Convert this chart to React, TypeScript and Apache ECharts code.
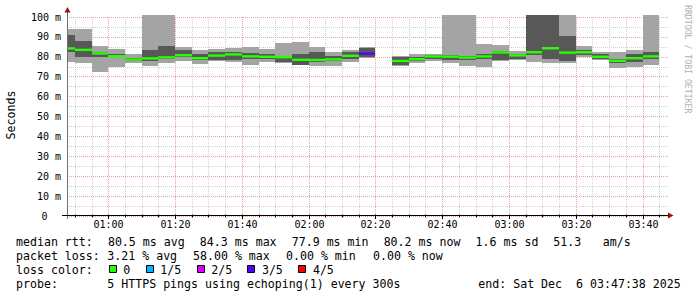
import React, { useEffect, useRef } from "react";
import * as echarts from "echarts";

// time axis in minutes since midnight: 00:47:38 .. 03:47:38
const X_START = 47 + 38 / 60;
const X_END = X_START + 180;
const STEP_MIN = 5;

const blockEndMinutes = [50, 55, 60, 65, 70, 75, 80, 85, 90, 95, 100, 105, 110, 115, 120, 125, 130, 135, 140, 145, 150, 155, 160, 165, 170, 175, 180, 185, 190, 195, 200, 205, 210, 215, 220, 225];
const pingLow = [77.2, 76.7, 72.6, 74.7, 76.8, 75.3, 76.7, 77.8, 76.6, 77.8, 77.5, 75.8, 77.2, 77.0, 75.8, 75.5, 75.5, 77.5, 79.2, null, 75.2, 76.7, 77.8, 76.7, 75.3, 75.0, 78.0, 78.3, 77.2, 76.7, 76.7, 79.8, 78.6, 74.2, 74.7, 75.7];
const pingQ2 = [82.2, 80.0, 80.0, 79.7, 77.7, 77.8, 78.7, 79.8, 78.5, 78.6, 78.2, 78.7, 78.8, 77.6, 76.0, 77.2, 77.8, 78.7, 79.8, null, 75.8, 77.8, 78.8, 78.3, 78.3, 79.0, 78.2, 79.0, 80.7, 79.0, 78.0, 81.0, 78.8, 76.8, 77.2, 78.7];
const medianRtt = [84.2, 83.5, 81.7, 80.3, 78.6, 79.2, 79.7, 80.8, 79.3, 80.6, 81.2, 80.2, 80.0, 79.8, 78.5, 78.4, 78.7, 80.5, 81.6, null, 77.9, 78.8, 80.2, 80.1, 79.6, 80.2, 82.2, 80.7, 82.3, 84.3, 82.1, 82.3, 80.0, 78.0, 79.3, 80.2];
const pingQ4 = [91.0, 88.0, 82.5, 81.5, 79.6, 83.5, 85.5, 83.5, 81.4, 82.5, 82.5, 82.0, 81.2, 80.6, 81.5, 82.5, 80.6, 82.5, 84.6, null, 79.7, 80.0, 80.9, 81.0, 80.5, 81.5, 83.0, 81.5, 101, 101, 90.5, 83.5, 81.5, 78.8, 81.2, 82.5];
const pingHigh = [94.2, 94.2, 85.5, 84.1, 81.6, 101, 101, 85.1, 83.5, 83.9, 84.5, 85.0, 84.0, 86.8, 87.5, 85.0, 82.5, 83.5, 85.0, null, 80.3, 81.5, 81.5, 101, 101, 86.5, 86.0, 83.0, 101, 101, 101, 85.5, 82.5, 82.2, 83.5, 101];
const lossFifths = [0, 0, 0, 0, 0, 0, 0, 0, 0, 0, 0, 0, 0, 0, 0, 0, 0, 0, 3, null, 0, 0, 0, 0, 0, 0, 0, 0, 0, 0, 0, 0, 0, 0, 0, 0];

const xGridMinutes = [50, 55, 60, 65, 70, 75, 80, 85, 90, 95, 100, 105, 110, 115, 120, 125, 130, 135, 140, 145, 150, 155, 160, 165, 170, 175, 180, 185, 190, 195, 200, 205, 210, 215, 220, 225];
const xTickMinutes = [60, 80, 100, 120, 140, 160, 180, 200, 220];
const xTickLabels = ["01:00", "01:20", "01:40", "02:00", "02:20", "02:40", "03:00", "03:20", "03:40"];

const lossColors = ["#26ff00", "#00b8ff", "#dd00ff", "#5500ff", "#ff0000"];
const lossLabels = ["0", "1/5", "2/5", "3/5", "4/5"];

const statsRtt = ["median rtt:", "80.5 ms avg", "84.3 ms max", "77.9 ms min", "80.2 ms now", "1.6 ms sd", "51.3", "am/s"];
const statsLoss = ["packet loss:", "3.21 % avg", "58.00 % max", "0.00 % min", "0.00 % now"];
const probeText = ["probe:", "5 HTTPS pings using echoping(1) every 300s", "end: Sat Dec", "6 03:47:38 2025"];

const MONO = '"DejaVu Sans Mono", monospace';
const LIGHT = "#a4a4a4";
const DARK = "#585858";
const MAJOR = "#e9a5a5";
const MINOR = "#cfcfcf";

export default function App() {
  const ref = useRef<HTMLDivElement>(null);
  useEffect(() => {
    if (!ref.current) return;
    const chart = echarts.init(ref.current, null, { renderer: "svg", width: 697, height: 297 });

    const blockData: any[] = [];
    blockEndMinutes.forEach((t, i) => {
      if (pingLow[i] == null) return;
      blockData.push([t, pingLow[i], pingQ2[i], medianRtt[i], pingQ4[i], pingHigh[i], lossFifths[i]]);
    });

    const cw = 7.07;
    const graphic: any[] = [];
    const txt = (x: number, y: number, s: string, extra: any = {}) => ({
      type: "text", x, y, silent: true,
      style: { text: s, fontFamily: MONO, fontSize: 11.6, fill: "#000", align: "left", verticalAlign: "middle", ...extra },
    });
    const rttCols = [0, 13, 26, 39, 52, 65, 76, 83];
    statsRtt.forEach((s, i) => graphic.push(txt(16 + rttCols[i] * cw, 241.5, s)));
    const lossX = [16, 107.3, 193, 286, 373];
    statsLoss.forEach((s, i) => graphic.push(txt(lossX[i], 255.5, s)));
    graphic.push(txt(16, 269.5, "loss color:"));
    const boxX = [108.7, 145.7, 196.7, 247.3, 298.3];
    lossLabels.forEach((s, i) => {
      graphic.push({ type: "rect", silent: true, shape: { x: Math.round(boxX[i]) + 0.5, y: 265.5, width: 7, height: 7 }, style: { fill: lossColors[i], stroke: "#000", lineWidth: 1 } });
      graphic.push(txt(boxX[i] + 14.6, 269.5, s));
    });
    const probeX = [16, 107.3, 478.3, 478.3 + 14 * 6.98];
    probeText.forEach((s, i) => graphic.push(txt(probeX[i], 283.5, s)));

    graphic.push({ type: "text", x: 10.5, y: 115, rotation: Math.PI / 2, silent: true, style: { text: "Seconds", fontFamily: MONO, fontSize: 11.6, fill: "#000", align: "center", verticalAlign: "middle" } });
    graphic.push({ type: "text", x: 688, y: 5, rotation: -Math.PI / 2, silent: true, style: { text: "RRDTOOL / TOBI OETIKER", fontFamily: MONO, fontSize: 8.2, fill: "#b0b0b0", align: "left", verticalAlign: "middle" } });

    // axis lines and arrows
    graphic.push({ type: "line", silent: true, z: 50, shape: { x1: 67.5, y1: 10, x2: 67.5, y2: 219 }, style: { stroke: "#707070", lineWidth: 1 } });
    graphic.push({ type: "line", silent: true, z: 50, shape: { x1: 62, y1: 215.5, x2: 668, y2: 215.5 }, style: { stroke: "#000", lineWidth: 1 } });
    graphic.push({ type: "polygon", silent: true, z: 51, shape: { points: [[67.5, 7], [64.5, 12.5], [70.5, 12.5]] }, style: { fill: "#9a1010" } });
    graphic.push({ type: "polygon", silent: true, z: 51, shape: { points: [[673.5, 215.5], [668, 212.5], [668, 218.5]] }, style: { fill: "#9a1010" } });

    const option: any = {
      animation: false,
      backgroundColor: "#ffffff",
      grid: { left: 67, right: 29, top: 17, bottom: 81, containLabel: false },
      xAxis: {
        type: "value", min: X_START, max: X_END,
        axisLine: { show: false }, axisTick: { show: false }, axisLabel: { show: false }, splitLine: { show: false },
      },
      yAxis: {
        type: "value", min: 0, max: 100, interval: 10,
        axisLine: { show: false }, axisTick: { show: false },
        axisLabel: {
          margin: 6, fontFamily: MONO, fontSize: 10, color: "#000",
          formatter: (v: number) => (v === 0 ? "{z|0}" : `${v} m`),
          rich: { z: { fontFamily: MONO, fontSize: 10, color: "#000", padding: [0, 13.5, 0, 0] } },
        },
        splitLine: { show: true, lineStyle: { color: MAJOR, width: 1, type: [1, 1] } },
        minorTick: { show: false, splitNumber: 2 },
        minorSplitLine: { show: true, lineStyle: { color: MINOR, width: 1, type: [1, 1] } },
      },
      series: [
        {
          type: "custom", z: 1, silent: true, clip: false,
          data: xGridMinutes.map((t) => [t]),
          renderItem: (params: any, api: any) => {
            const t = api.value(0);
            const p0 = api.coord([t, 0]);
            const p1 = api.coord([t, 100]);
            const x = Math.round(p0[0]) + 0.5;
            const idx = xTickMinutes.indexOf(t);
            const children: any[] = [
              { type: "line", shape: { x1: x, y1: p0[1], x2: x, y2: p1[1] }, style: { stroke: idx >= 0 ? MAJOR : MINOR, lineWidth: 1, lineDash: [1, 1] } },
              { type: "line", shape: { x1: x, y1: p0[1] - 1.5, x2: x, y2: p0[1] + (idx >= 0 ? 3 : 1.5) }, style: { stroke: "#000", lineWidth: 1 } },
            ];
            if (idx >= 0) {
              children.push({ type: "text", style: { text: xTickLabels[idx], x, y: p0[1] + 8.5, fontFamily: MONO, fontSize: 10, fill: "#000", align: "center", verticalAlign: "middle" } });
            }
            return { type: "group", children };
          },
        },
        {
          type: "custom", z: 2, silent: true, clip: false,
          data: blockData,
          renderItem: (params: any, api: any) => {
            const tEnd = api.value(0);
            const xs = Math.max(tEnd - STEP_MIN, X_START);
            const x0 = Math.round(api.coord([xs, 0])[0]);
            const x1 = Math.round(api.coord([tEnd, 0])[0]);
            const y = (v: number) => api.coord([tEnd, v])[1];
            const yLow = Math.round(y(api.value(1)));
            const yQ2 = Math.round(y(api.value(2)));
            const yMed = y(api.value(3));
            const yQ4 = Math.round(y(api.value(4)));
            const yHigh = Math.round(y(api.value(5)));
            const loss = api.value(6);
            const w = x1 - x0;
            return {
              type: "group",
              children: [
                { type: "rect", shape: { x: x0, y: yHigh, width: w, height: yLow - yHigh }, style: { fill: LIGHT } },
                { type: "rect", shape: { x: x0, y: yQ4, width: w, height: yQ2 - yQ4 }, style: { fill: DARK } },
                { type: "rect", shape: { x: x0, y: yMed - 1.2, width: w, height: 2.4 }, style: { fill: lossColors[loss] } },
              ],
            };
          },
        },
      ],
      graphic,
    };
    chart.setOption(option);
    return () => chart.dispose();
  }, []);
  return <div ref={ref} style={{ position: "fixed", left: 0, top: 0, width: 697, height: 297, background: "#fff" }} />;
}
